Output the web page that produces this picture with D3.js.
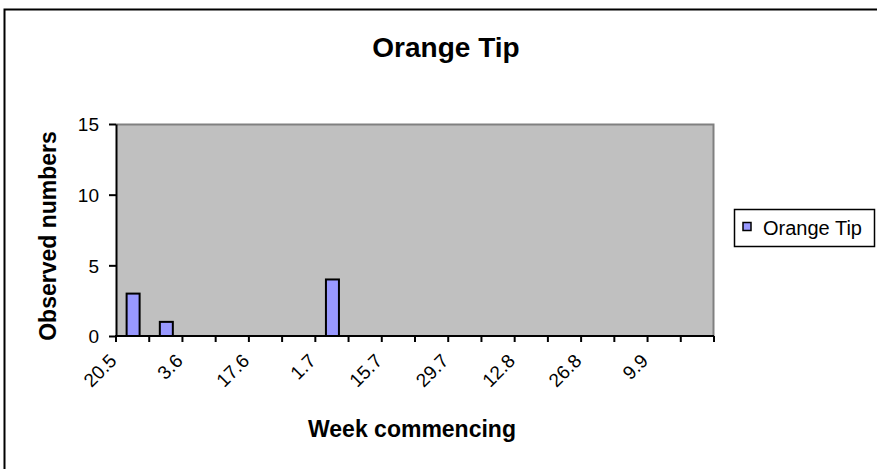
<!DOCTYPE html>
<html>
<head>
<meta charset="utf-8">
<script src="https://cdn.jsdelivr.net/npm/d3@7"></script>
<style>
  body { margin: 0; background: #fff; }
  svg { display: block; font-family: Arial, "Liberation Sans", sans-serif; }
</style>
</head>
<body>
<svg id="chart" width="877" height="469"></svg>
<script>
// weeks (day.month)
var weeks = ["20.5", "27.5", "3.6", "10.6", "17.6", "24.6", "1.7", "8.7", "15.7",
  "22.7", "29.7", "5.8", "12.8", "19.8", "26.8", "2.9", "9.9", "16.9"];
var counts = [3, 1, 0, 0, 0, 0, 4, 0, 0, 0, 0, 0, 0, 0, 0, 0, 0, 0];
var yTicks = [0, 5, 10, 15];
var seriesName = "Orange Tip";

var svg = d3.select("#chart");
var plot = { left: 116, right: 714, top: 124, bottom: 336 };

// outer chart border (cut off on the right and bottom)
svg.append("rect")
  .attr("x", 4.5).attr("y", 9.5)
  .attr("width", 890).attr("height", 480)
  .attr("fill", "#fff")
  .attr("stroke", "#000")
  .attr("stroke-width", 2);

var x = d3.scaleBand()
  .domain(weeks)
  .range([plot.left, plot.right]);

var y = d3.scaleLinear()
  .domain([0, 15])
  .range([plot.bottom, plot.top]);

// plot area
svg.append("rect")
  .attr("x", plot.left).attr("y", plot.top)
  .attr("width", plot.right - plot.left)
  .attr("height", plot.bottom - plot.top)
  .attr("fill", "#c0c0c0");

svg.append("path")
  .attr("d", "M" + plot.left + "," + (plot.top + 0.5) + "H" + (plot.right - 0.5) + "V" + plot.bottom)
  .attr("fill", "none")
  .attr("stroke", "#808080")
  .attr("stroke-width", 2);

// bars
var barW = 13;
svg.selectAll("rect.bar")
  .data(counts.map((v, i) => ({ week: weeks[i], value: v })).filter(d => d.value > 0))
  .enter()
  .append("rect")
    .attr("class", "bar")
    .attr("x", d => x(d.week) + x.bandwidth() / 2 - barW / 2 + 0.5)
    .attr("y", d => y(d.value))
    .attr("width", barW)
    .attr("height", d => plot.bottom - y(d.value))
    .attr("fill", "#9999ff")
    .attr("stroke", "#000")
    .attr("stroke-width", 2);

// y axis
var yAxis = svg.append("g")
  .attr("transform", "translate(" + plot.left + ",0)")
  .call(d3.axisLeft(y).tickValues(yTicks).tickSize(7).tickPadding(10).tickSizeOuter(0));
yAxis.select(".domain").attr("stroke-width", 2);
yAxis.selectAll(".tick line").attr("stroke-width", 2);
yAxis.selectAll(".tick text").attr("font-size", 19).attr("fill", "#000").attr("dy", "0.36em");

// x axis: ticks between categories
var boundaries = d3.range(weeks.length + 1).map(i => plot.left + i * x.step());
var xAxis = svg.append("g");
xAxis.append("line")
  .attr("x1", plot.left - 1).attr("x2", plot.right)
  .attr("y1", plot.bottom).attr("y2", plot.bottom)
  .attr("stroke", "#000").attr("stroke-width", 2);
xAxis.selectAll("line.tick")
  .data(boundaries)
  .enter()
  .append("line")
    .attr("class", "tick")
    .attr("x1", d => d).attr("x2", d => d)
    .attr("y1", plot.bottom).attr("y2", plot.bottom + 6)
    .attr("stroke", "#000").attr("stroke-width", 2);

xAxis.selectAll("text")
  .data(weeks.filter((d, i) => i % 2 === 0))
  .enter()
  .append("text")
    .attr("transform", d => "translate(" + (x(d) + x.bandwidth() / 2 - 15) + "," + (plot.bottom + 26) + ") rotate(-45)")
    .attr("text-anchor", "end")
    .attr("font-size", 19)
    .text(d => d);

// titles
svg.append("text")
  .attr("x", 446).attr("y", 57)
  .attr("text-anchor", "middle")
  .attr("font-size", 28).attr("font-weight", "bold")
  .text("Orange Tip");

svg.append("text")
  .attr("x", 412).attr("y", 437)
  .attr("text-anchor", "middle")
  .attr("font-size", 23).attr("font-weight", "bold")
  .text("Week commencing");

svg.append("text")
  .attr("transform", "translate(56,236) rotate(-90)")
  .attr("text-anchor", "middle")
  .attr("font-size", 23).attr("font-weight", "bold")
  .text("Observed numbers");

// legend
var legend = svg.append("g").attr("transform", "translate(734,209)");
legend.append("rect")
  .attr("x", 0.5).attr("y", 0.5)
  .attr("width", 140).attr("height", 37)
  .attr("fill", "#fff").attr("stroke", "#000").attr("stroke-width", 1.5);
legend.append("rect")
  .attr("x", 9).attr("y", 13.5)
  .attr("width", 8).attr("height", 8)
  .attr("fill", "#9999ff").attr("stroke", "#000").attr("stroke-width", 1.5);
legend.append("text")
  .attr("x", 29).attr("y", 26)
  .attr("font-size", 20)
  .text(seriesName);
</script>
</body>
</html>
